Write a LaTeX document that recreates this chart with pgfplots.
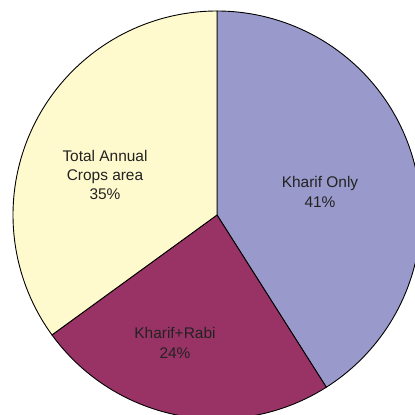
\documentclass[border=0pt]{standalone}
\usepackage{pgfplots}
\pgfplotsset{compat=1.18}
\usepackage{fontspec}
\setmainfont{Liberation Sans}
\definecolor{konly}{HTML}{9999CC}
\definecolor{krabi}{HTML}{993366}
\definecolor{annual}{HTML}{FFFACD}
\definecolor{txt}{HTML}{222222}
\tikzset{lbl/.style={font=\fontsize{15.5}{19.5}\selectfont, text=txt, align=center}}
\begin{document}
\begin{tikzpicture}
\begin{axis}[
    x=204bp, y=204bp,
    xmin=-1.0637, xmax=0.9706,
    ymin=-0.9804, ymax=1.0539,
    axis line style={draw=none},
    ticks=none,
    clip=true,
]
% shares: Kharif Only 41, Kharif+Rabi 24, Total Annual 35 (clockwise from top)
\addplot[fill=konly, draw=black, line width=0.9pt, domain=90:-57.6, samples=120]
    ({cos(x)},{sin(x)}) -- (axis cs:0,0) -- cycle;
\addplot[fill=krabi, draw=black, line width=0.9pt, domain=-57.6:-144, samples=80]
    ({cos(x)},{sin(x)}) -- (axis cs:0,0) -- cycle;
\addplot[fill=annual, draw=black, line width=0.9pt, domain=-144:-270, samples=100]
    ({cos(x)},{sin(x)}) -- (axis cs:0,0) -- cycle;
\node[lbl] at (axis cs:0.505,0.113) {Kharif Only\\41\%};
\node[lbl] at (axis cs:-0.206,-0.627) {Kharif+Rabi\\24\%};
\node[lbl] at (axis cs:-0.549,0.196) {Total Annual\\Crops area\\35\%};
\end{axis}
\end{tikzpicture}
\end{document}
